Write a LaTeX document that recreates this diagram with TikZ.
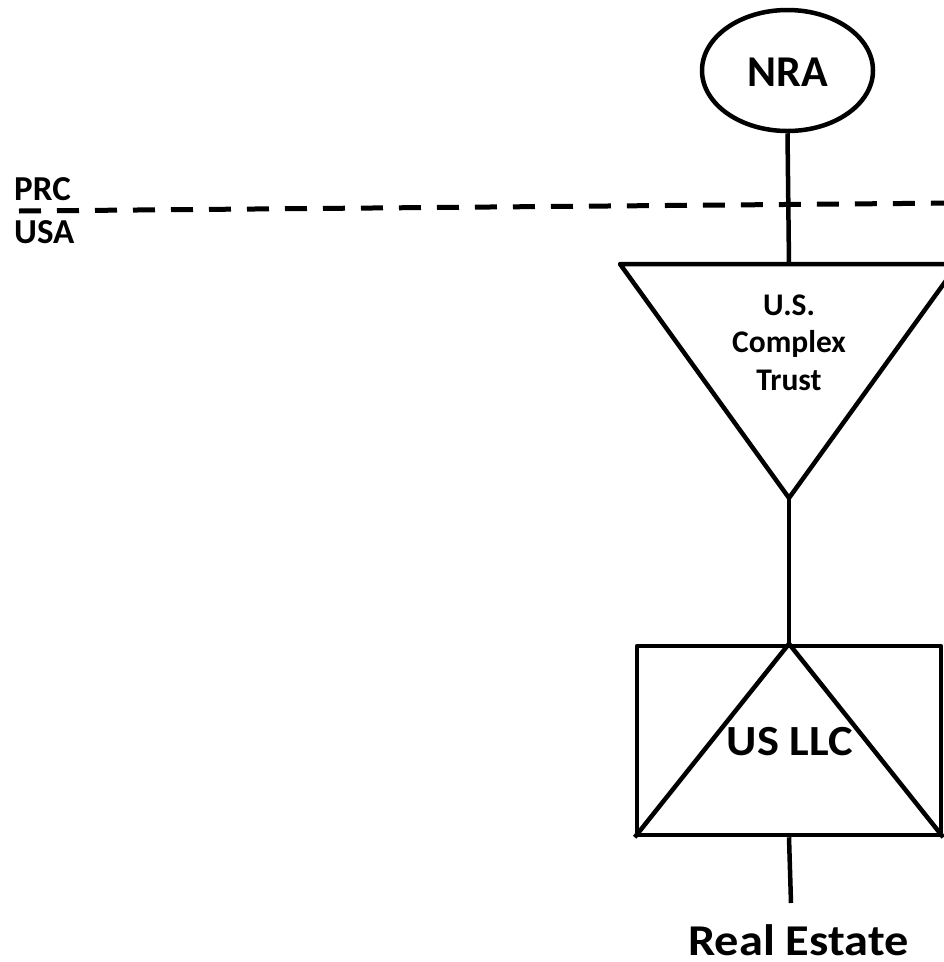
\documentclass[tikz,border=0pt]{standalone}
\usepackage{fontspec}
\usepackage{graphicx}
\setmainfont{Carlito}
\usetikzlibrary{shapes.geometric}
\begin{document}
\begin{tikzpicture}[x=1pt,y=-1pt,
  line join=round,
  ent/.style={draw,line width=4.5pt,inner sep=0pt},
  link/.style={line width=4.5pt},
  border/.style={line width=5pt,dash pattern=on 22pt off 16pt},
  lbl/.style={inner sep=0pt,font=\bfseries}]
\useasboundingbox (0,0) rectangle (944,962);

% country border
\coordinate (bL) at (19,211);
\coordinate (bR) at (960,203);
\draw[border] (bL) -- (bR);
\node[lbl,anchor=base west,font=\fontsize{35}{40}\selectfont\bfseries] (prc) at (14,200) {PRC};
\node[lbl,anchor=base west,font=\fontsize{35}{40}\selectfont\bfseries] (usa) at (14,243) {USA};

% nonresident alien
\node[ent,ellipse,minimum width=171pt,minimum height=121pt] (nra) at (787.5,70.5) {};
\node[lbl,font=\fontsize{44}{50}\selectfont\bfseries] (nratxt) at (787.5,72) {NRA};

% trust (inverted triangle)
\coordinate (tL) at (620,264);
\coordinate (tR) at (958,264);
\coordinate (tTop) at (789,264);
\coordinate (tApex) at (789,498);
\draw[link] (tL) -- (tR) -- (tApex) -- cycle;
\node[lbl,align=center,font=\fontsize{31.5}{37.5}\selectfont\bfseries] (trust) at (789,342.5) {U.S.\\Complex\\Trust};

% LLC box with inner triangle
\node[ent,rectangle,minimum width=304pt,minimum height=189pt] (llc) at (789,740.5) {};
\draw[link] (llc.south west) -- (llc.north) -- (llc.south east);
\node[lbl,font=\fontsize{43}{48}\selectfont\bfseries] (llctxt) at (790,741.5) {\scalebox{1.08}[1]{US LLC}};

% ownership links
\draw[link] (nra.south) -- (tTop);
\draw[link] (tApex) -- (llc.north);
\coordinate (reTop) at (791,903);
\draw[link] (llc.south) -- (reTop);
\node[lbl,anchor=base,font=\fontsize{44}{48}\selectfont\bfseries] (re) at (798.5,955) {\scalebox{1.1}[1]{Real Estate}};
\end{tikzpicture}
\end{document}
